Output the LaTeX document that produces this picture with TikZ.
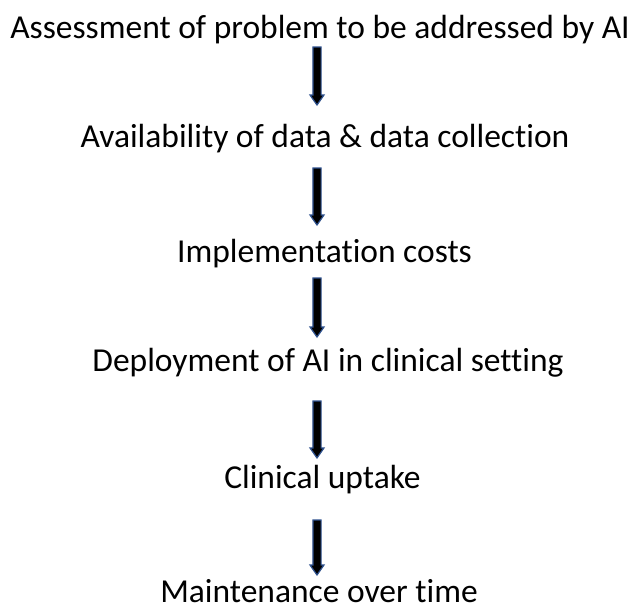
\documentclass[tikz,border=0pt]{standalone}
\usepackage{fontspec}
\setmainfont{Carlito}[Ligatures=NoCommon]
\usetikzlibrary{calc}

\definecolor{edgeblue}{RGB}{47,82,143}

\tikzset{
  stage/.style={font=\fontsize{33.5}{40}\selectfont, inner sep=0pt, anchor=base},
  flow/.style 2 args={fill=black, draw=edgeblue, line width=1.2pt, line join=miter,
    to path={let \p1=(\tikztostart), \p2=(\tikztotarget) in
      (\x1-4.1pt,\y1-#1pt) -- (\x1+4.1pt,\y1-#1pt) -- (\x1+4.1pt,\y2+#2pt+10pt)
      -- (\x1+7pt,\y2+#2pt+10pt) -- (\x2,\y2+#2pt) -- (\x1-7pt,\y2+#2pt+10pt)
      -- (\x1-4.1pt,\y2+#2pt+10pt) -- cycle}}
}

\begin{document}
\begin{tikzpicture}[x=1pt,y=-1pt]
\useasboundingbox (0,0) rectangle (639,608);
\coordinate (axis) at (317,0);

\node[stage] (A) at (320,38) {Assessment of problem to be addressed by AI};
\node[stage] (B) at (325,147) {Availability of data \& data collection};
\node[stage] (C) at (324.5,262) {Implementation costs};
\node[stage] (D) at (328,371) {Deployment of AI in clinical setting};
\node[stage] (E) at (322.5,488) {Clinical uptake};
\node[stage] (F) at (319,602) {Maintenance over time};

\draw[flow={9}{42}] (A.base -| axis) to (B.base -| axis);
\draw[flow={21}{37}] (B.base -| axis) to (C.base -| axis);
\draw[flow={16}{34}] (C.base -| axis) to (D.base -| axis);
\draw[flow={30}{30}] (D.base -| axis) to (E.base -| axis);
\draw[flow={32}{27}] (E.base -| axis) to (F.base -| axis);

\end{tikzpicture}
\end{document}
